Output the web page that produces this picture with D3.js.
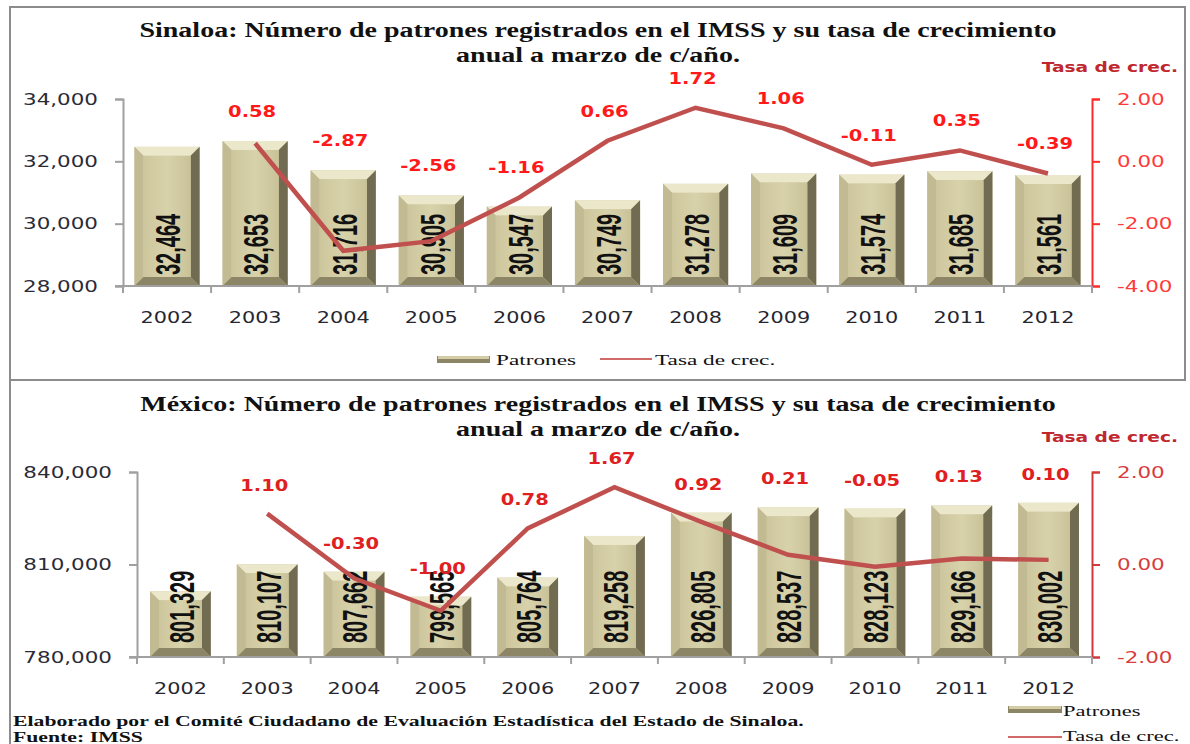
<!DOCTYPE html>
<html>
<head>
<meta charset="utf-8">
<script src="https://cdn.jsdelivr.net/npm/d3@7"></script>
<style>
  html, body { margin: 0; padding: 0; background: #fff; }
  svg { display: block; }
</style>
</head>
<body>
<div id="chart"></div>
<script>
// data
var years = ["2002", "2003", "2004", "2005", "2006", "2007", "2008", "2009", "2010", "2011", "2012"];
var sinPatrones = [32464, 32653, 31716, 30905, 30547, 30749, 31278, 31609, 31574, 31685, 31561];
var sinTasa = [null, 0.58, -2.87, -2.56, -1.16, 0.66, 1.72, 1.06, -0.11, 0.35, -0.39];
var mexPatrones = [801329, 810107, 807662, 799565, 805764, 819258, 826805, 828537, 828123, 829166, 830002];
var mexTasa = [null, 1.10, -0.30, -1.00, 0.78, 1.67, 0.92, 0.21, -0.05, 0.13, 0.10];
var sinLeftTicks = [28000, 30000, 32000, 34000];
var sinRightTicks = [-4, -2, 0, 2];
var mexLeftTicks = [780000, 810000, 840000];
var mexRightTicks = [-2, 0, 2];

var W = 1190, H = 744, SX = 1.3;
var loc = d3.formatLocale({ decimal: ".", thousands: ",", grouping: [3], currency: ["$", ""], minus: "-" });
var fmtN = loc.format(",");
var fmtR = loc.format(".2f");
var svg = d3.select("#chart").append("svg").attr("width", W).attr("height", H);

// horizontally stretched text (the source image is widened)
function stext(sel, x, y, str, o) {
  return sel.append("text")
    .attr("transform", "translate(" + x + "," + y + ") scale(" + (o.sx || SX) + ",1)")
    .attr("text-anchor", o.anchor || "start")
    .attr("font-family", o.font || "DejaVu Sans")
    .attr("font-size", o.size || 15)
    .attr("font-weight", o.weight || "normal")
    .attr("fill", o.fill || "#222")
    .text(str);
}

// frame
svg.append("rect").attr("x", 10).attr("y", 7).attr("width", 1175).attr("height", 373)
  .attr("fill", "none").attr("stroke", "#8c8c8c").attr("stroke-width", 2);
svg.append("line").attr("x1", 10).attr("x2", 10).attr("y1", 380).attr("y2", H)
  .attr("stroke", "#8c8c8c").attr("stroke-width", 2);

var defs = svg.append("defs");
var fg = defs.append("linearGradient").attr("id", "face").attr("x1", 0).attr("x2", 1).attr("y1", 0).attr("y2", 0);
fg.append("stop").attr("offset", "0%").attr("stop-color", "#cdc69d");
fg.append("stop").attr("offset", "50%").attr("stop-color", "#d8d2ab");
fg.append("stop").attr("offset", "100%").attr("stop-color", "#c9c299");

function bar(g, x0, x1, yt, yb) {
  var b = 9;
  function poly(pts, c) { g.append("polygon").attr("points", pts.map(function (p) { return p.join(","); }).join(" ")).attr("fill", c); }
  g.append("rect").attr("x", x0).attr("y", yt).attr("width", x1 - x0).attr("height", yb - yt).attr("fill", "#d3cca4");
  poly([[x0, yt], [x1, yt], [x1 - b, yt + b], [x0 + b, yt + b]], "#ebe7cb");
  poly([[x0, yt], [x0 + b, yt + b], [x0 + b, yb - b], [x0, yb]], "#c2ba93");
  poly([[x1, yt], [x1, yb], [x1 - b, yb - b], [x1 - b, yt + b]], "#706b51");
  poly([[x0, yb], [x0 + b, yb - b], [x1 - b, yb - b], [x1, yb]], "#8c8666");
  g.append("rect").attr("x", x0 + b).attr("y", yt + b).attr("width", x1 - x0 - 2 * b).attr("height", yb - yt - 2 * b)
    .attr("fill", "url(#face)");
}

function panel(c) {
  var g = svg.append("g");
  var x = d3.scaleBand().domain(years).range([c.x0, c.x1]).paddingInner(c.pad).paddingOuter(c.pad / 2);
  var yl = d3.scaleLinear().domain([c.leftTicks[0], c.leftTicks[c.leftTicks.length - 1]]).range([c.yb, c.yt]);
  var yr = d3.scaleLinear().domain([c.rightTicks[0], c.rightTicks[c.rightTicks.length - 1]]).range([c.yb, c.yt]);
  var step = (c.x1 - c.x0) / years.length;

  // titles
  stext(g, 598, c.titleY, c.title1, { font: "Liberation Serif", size: 20, weight: "bold", anchor: "middle", fill: "#111", sx: 1.4 });
  stext(g, 598, c.titleY + 25, c.title2, { font: "Liberation Serif", size: 20, weight: "bold", anchor: "middle", fill: "#111", sx: 1.4 });
  stext(g, 1178, c.tasaY, "Tasa de crec.", { size: 14, weight: "bold", anchor: "end", fill: "#c0282d", sx: 1.33 });

  // bars
  var bg = g.append("g");
  c.patrones.forEach(function (v, i) {
    bar(bg, x(years[i]), x(years[i]) + x.bandwidth(), yl(v), c.yb);
  });
  c.patrones.forEach(function (v, i) {
    g.append("text")
      .attr("transform", "translate(" + (x(years[i]) + x.bandwidth() / 2 + 1) + "," + (c.yb - c.lblBottom) + ") rotate(-90) scale(1,1.75)")
      .attr("dominant-baseline", "central")
      .attr("font-family", "Liberation Sans").attr("font-weight", "bold").attr("font-size", 20)
      .attr("fill", "#111").text(fmtN(v));
  });

  // left axis
  var la = g.append("g").attr("transform", "translate(" + c.x0 + ",0)")
    .call(d3.axisLeft(yl).tickValues(c.leftTicks).tickSize(8).tickPadding(17).tickFormat(fmtN));
  la.select(".domain").attr("stroke", "#a0a0a0").attr("stroke-width", 2);
  la.selectAll(".tick line").attr("stroke", "#a0a0a0").attr("stroke-width", 2);
  la.selectAll("text").attr("font-family", "DejaVu Sans").attr("font-size", 16.5).attr("fill", "#2b2b38")
    .attr("transform", "scale(" + SX + ",1)").attr("x", function () { return +this.getAttribute("x") / SX; });

  // right axis
  var ra = g.append("g").attr("transform", "translate(" + c.x1 + ",0)")
    .call(d3.axisRight(yr).tickValues(c.rightTicks).tickSize(8).tickPadding(17).tickFormat(fmtR));
  ra.select(".domain").attr("stroke", c.red).attr("stroke-width", 2);
  ra.selectAll(".tick line").attr("stroke", c.red).attr("stroke-width", 2);
  ra.selectAll("text").attr("font-family", "DejaVu Sans").attr("font-size", 16.5).attr("fill", c.redText)
    .attr("transform", "scale(" + SX + ",1)").attr("x", function () { return +this.getAttribute("x") / SX; });

  // x axis
  g.append("line").attr("x1", c.x0 - 8).attr("x2", c.x1).attr("y1", c.yb).attr("y2", c.yb)
    .attr("stroke", "#a0a0a0").attr("stroke-width", 2);
  d3.range(years.length + 1).forEach(function (i) {
    g.append("line").attr("x1", c.x0 + i * step).attr("x2", c.x0 + i * step).attr("y1", c.yb).attr("y2", c.yb + 7)
      .attr("stroke", "#a0a0a0").attr("stroke-width", 2);
  });
  var xa = g.append("g").attr("transform", "translate(0," + c.yb + ")")
    .call(d3.axisBottom(x).tickSize(0).tickPadding(26));
  xa.select(".domain").remove();
  xa.selectAll("text").attr("font-family", "DejaVu Sans").attr("font-size", 16).attr("fill", "#262630")
    .attr("transform", "scale(" + SX + ",1)");

  // growth-rate line
  var pts = c.tasa.map(function (v, i) { return v == null ? null : [x(years[i]) + x.bandwidth() / 2, yr(v), v, i]; })
    .filter(function (d) { return d; });
  g.append("path").attr("d", d3.line()(pts.map(function (d) { return [d[0], d[1]]; })))
    .attr("fill", "none").attr("stroke", "#c0504d").attr("stroke-width", 4.5).attr("stroke-linejoin", "miter");
  pts.forEach(function (d) {
    var top = Math.min(d[1], yl(c.patrones[d[3]]));
    stext(g, d[0] - 3, top - c.labelGap, fmtR(d[2]), { size: 15, weight: "bold", anchor: "middle", fill: c.labelFill, sx: 1.3 });
  });
}

panel({
  title1: "Sinaloa: Número de patrones registrados en el IMSS y su tasa de crecimiento",
  title2: "anual a marzo de c/año.",
  titleY: 37, tasaY: 72, x0: 123, x1: 1092, yt: 99, yb: 286, pad: 0.26,
  leftTicks: sinLeftTicks, rightTicks: sinRightTicks,
  patrones: sinPatrones, tasa: sinTasa, lblBottom: 11, labelGap: 24,
  red: "#ff2a2a", redText: "#ff3a3a", labelFill: "#ff1a1a"
});
panel({
  title1: "México: Número de patrones registrados en el IMSS y su tasa de crecimiento",
  title2: "anual a marzo de c/año.",
  titleY: 411, tasaY: 442, x0: 137, x1: 1092, yt: 472, yb: 657, pad: 0.3,
  leftTicks: mexLeftTicks, rightTicks: mexRightTicks,
  patrones: mexPatrones, tasa: mexTasa, lblBottom: 14, labelGap: 23,
  red: "#d03a3a", redText: "#d83c3c", labelFill: "#e02020"
});

// legend, top panel
function legBar(x0, y0, w) {
  svg.append("rect").attr("x", x0).attr("y", y0).attr("width", w).attr("height", 7).attr("fill", "#8c8666");
  svg.append("rect").attr("x", x0 + 1).attr("y", y0).attr("width", w - 2).attr("height", 3).attr("fill", "#d3cca4");
}
legBar(437, 356, 53);
stext(svg, 496, 365, "Patrones", { font: "Liberation Serif", size: 15, fill: "#111", sx: 1.55 });
svg.append("line").attr("x1", 600).attr("x2", 652).attr("y1", 359).attr("y2", 359).attr("stroke", "#d06a66").attr("stroke-width", 2);
stext(svg, 655, 365, "Tasa de crec.", { font: "Liberation Serif", size: 15, fill: "#111", sx: 1.55 });

// legend, bottom panel
legBar(1008, 706, 54);
stext(svg, 1063, 716, "Patrones", { font: "Liberation Serif", size: 15, fill: "#111", sx: 1.5 });
svg.append("line").attr("x1", 1008).attr("x2", 1062).attr("y1", 737).attr("y2", 737).attr("stroke", "#d06a66").attr("stroke-width", 2);
stext(svg, 1063, 741, "Tasa de crec.", { font: "Liberation Serif", size: 15, fill: "#111", sx: 1.5 });

// footer
stext(svg, 13, 726, "Elaborado por el Comité Ciudadano de Evaluación Estadística del Estado de Sinaloa.",
  { font: "Liberation Serif", size: 15, weight: "bold", fill: "#111", sx: 1.45 });
stext(svg, 13, 742, "Fuente: IMSS", { font: "Liberation Serif", size: 15, weight: "bold", fill: "#111", sx: 1.45 });
</script>
</body>
</html>
